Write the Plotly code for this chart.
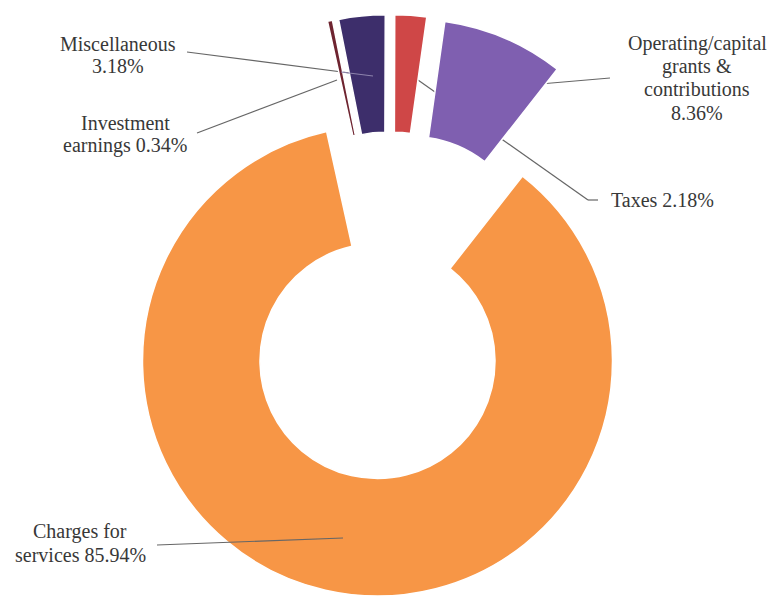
import plotly.graph_objects as go

# Revenue sources (percent of total)
categories = [
    "Investment earnings",
    "Miscellaneous",
    "Taxes",
    "Operating/capital grants & contributions",
    "Charges for services",
]
shares = [0.34, 3.18, 2.18, 8.36, 85.94]
colors = ["#6E2430", "#3D2E6B", "#CF4747", "#7F5FB0", "#F79646"]

# Label text, wrapped the way it is printed beside each slice
label_lines = [
    ["Investment", "earnings {v:.2f}%"],
    ["Miscellaneous", "{v:.2f}%"],
    ["Taxes {v:.2f}%"],
    ["Operating/capital", "grants &", "contributions", "{v:.2f}%"],
    ["Charges for", "services {v:.2f}%"],
]

W, H = 771, 602

# Pie geometry in pixels
CX, CY = 390, 306
R_PX = 235
PULL = 0.24
half = R_PX * (1 + PULL)

FONT = dict(family="Liberation Serif", size=20, color="#383838")
LINE_H = 23


def px(x, y):
    return x / W, 1 - y / H


fig = go.Figure(
    go.Pie(
        labels=categories,
        values=shares,
        sort=False,
        direction="clockwise",
        rotation=-12.5,
        hole=0.5,
        pull=[PULL] * len(shares),
        marker=dict(colors=colors, line=dict(color="white", width=1.5)),
        textinfo="none",
        hoverinfo="label+percent",
        showlegend=False,
        domain=dict(
            x=[(CX - half) / W, (CX + half) / W],
            y=[1 - (CY + half) / H, 1 - (CY - half) / H],
        ),
    )
)

# Label block centres and leader line points, pixels
label_pos = [(125, 134), (118, 55), (662, 200), (697, 78), (80, 543)]
leaders = [
    [(197, 133), (337, 80)],
    [(187, 52), (373, 76)],
    [(598, 200), (588, 200), (418, 80)],
    [(610, 78), (540, 84)],
    [(157, 545), (343, 538)],
]
leader_above = [False, False, False, False, True]

shapes = []
for pts, above in zip(leaders, leader_above):
    for (x0, y0), (x1, y1) in zip(pts[:-1], pts[1:]):
        a0, b0 = px(x0, y0)
        a1, b1 = px(x1, y1)
        shapes.append(dict(
            type="line", xref="paper", yref="paper",
            x0=a0, y0=b0, x1=a1, y1=b1,
            line=dict(color="#666666", width=1.2),
            layer="above" if above else "below",
        ))

# short visible part of the Miscellaneous leader where it crosses its slice
a0, b0 = px(341, 72)
a1, b1 = px(373, 76)
shapes.append(dict(type="line", xref="paper", yref="paper",
                   x0=a0, y0=b0, x1=a1, y1=b1,
                   line=dict(color="#8E84AD", width=1), layer="above"))

annotations = []
for lines, v, (x, y) in zip(label_lines, shares, label_pos):
    n = len(lines)
    for k, s in enumerate(lines):
        ax, ay = px(x, y + (k - (n - 1) / 2) * LINE_H)
        annotations.append(dict(
            x=ax, y=ay, xref="paper", yref="paper",
            text=s.format(v=v), showarrow=False,
            xanchor="center", yanchor="middle",
            font=FONT,
        ))

fig.update_layout(
    width=W, height=H,
    margin=dict(l=0, r=0, t=0, b=0),
    paper_bgcolor="white",
    plot_bgcolor="white",
    shapes=shapes,
    annotations=annotations,
)

fig.write_html("out.html")
